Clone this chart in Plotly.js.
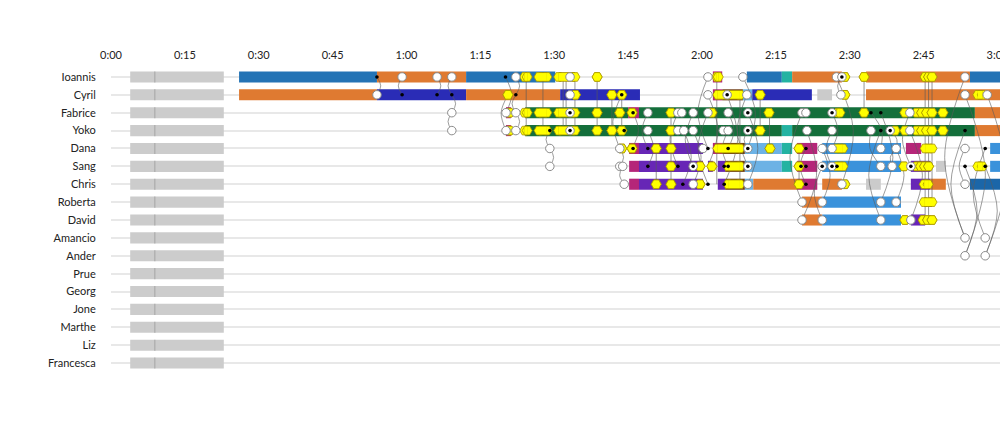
<!DOCTYPE html>
<html><head><meta charset="utf-8">
<script src="https://cdn.plot.ly/plotly-3.0.1.min.js"></script>
<style>html,body{margin:0;padding:0;background:#fff}#chart{width:1000px;height:422px}</style>
</head><body><div id="chart"></div>
<script>
// ---------- DATA (times in minutes) ----------
const people = ['Ioannis','Cyril','Fabrice','Yoko','Dana','Sang','Chris','Roberta','David','Amancio','Ander','Prue','Georg','Jone','Marthe','Liz','Francesca'];
const tickMinutes = [0,15,30,45,60,75,90,105,120,135,150,165,180];
const tickLabels = ['0:00','0:15','0:30','0:45','1:00','1:15','1:30','1:45','2:00','2:15','2:30','2:45','3:00'];
const idleBlock = [3.9, 22.9];
const idleMark = 8.9;

// activity segments: [start, end, type]
const barsIoannis = [[26.0,54.0,'A'],[54.0,72.1,'B'],[72.1,90.2,'A'],[122.2,124.1,'E'],[129.1,136.2,'A'],[136.2,138.3,'I'],[138.3,148.4,'B'],[153.3,174.4,'B'],[174.4,181,'A']];
const barsCyril = [[26.0,54.0,'B'],[54.0,72.1,'C'],[72.1,91.2,'B'],[91.2,107.4,'C'],[122.2,124.1,'E'],[124.1,128.3,'G'],[128.3,130.2,'H'],[130.2,142.3,'C'],[143.4,146.4,'L'],[153.3,181,'B']];
const barsFabrice = [[80.2,81.2,'E'],[84.1,105.0,'D'],[105.0,107.2,'E'],[107.2,175.4,'D'],[175.4,181,'B']];
const barsYoko = [[80.2,81.2,'E'],[84.1,136.2,'D'],[136.2,138.3,'I'],[138.3,175.4,'D'],[175.4,181,'B']];
const barsDana = [[105.2,107.2,'E'],[107.2,120.2,'F'],[122.2,124.1,'E'],[124.1,128.7,'G'],[128.7,136.2,'H'],[136.2,138.3,'I'],[139.3,143.4,'E'],[144.4,160.4,'J'],[161.4,164.5,'E'],[178.5,181,'J']];
const barsSang = [[105.2,107.2,'E'],[107.2,120.2,'F'],[121.2,122.2,'F'],[123.2,124.7,'F'],[124.7,128.7,'G'],[128.7,136.2,'H'],[136.2,138.3,'I'],[139.3,143.4,'E'],[144.4,160.4,'J'],[162.4,166.4,'F'],[167.5,169.5,'L'],[178.5,181,'J']];
const barsChris = [[105.2,107.2,'E'],[107.2,120.2,'F'],[123.2,124.7,'F'],[124.7,128.7,'G'],[128.7,130.4,'H'],[130.4,139.3,'B'],[139.3,143.4,'E'],[144.4,148.4,'B'],[153.3,156.3,'L'],[162.4,166.4,'F'],[166.4,169.5,'B'],[174.4,181,'K']];
const barsRoberta = [[140.3,144.4,'B'],[144.4,160.4,'J']];
const barsDavid = [[140.3,144.4,'B'],[144.4,160.4,'J'],[162.4,165.3,'F']];
const allBars = [barsIoannis,barsCyril,barsFabrice,barsYoko,barsDana,barsSang,barsChris,barsRoberta,barsDavid];

// yellow pills: [capStart, capEnd]
const pills = [
  [[84.0,84.5],[86.9,88.5],[90.9,94.2],[98.7,98.7],[123.0,123.3],[149.0,149.0],[152.9,152.9],[165.3,165.3],[166.0,166.0],[166.7,166.7]],
  [[80.6,80.6],[94.3,94.3],[101.7,101.7],[103.7,103.7],[123.2,127.7],[131.8,131.8],[149.0,149.0],[176.0,176.9]],
  [[80.9,80.9],[84.0,84.5],[86.9,88.5],[90.9,94.2],[98.7,98.7],[103.3,103.3],[105.8,105.8],[113.7,113.7],[122.0,122.0],[133.6,133.6],[147.6,148.0],[152.9,152.9],[161.2,161.2],[163.6,163.6],[164.6,164.6],[165.6,165.6],[166.7,166.7],[168.9,168.9]],
  [[80.9,80.9],[84.0,84.5],[86.9,88.5],[90.9,94.2],[98.7,98.7],[101.7,101.7],[103.7,103.7],[113.7,113.7],[131.8,131.8],[159.2,159.2],[161.2,161.2],[163.6,163.6],[164.6,164.6],[165.6,165.6],[166.7,166.7],[168.9,168.9]],
  [[103.7,103.7],[105.8,105.8],[110.7,110.7],[113.7,113.7],[123.2,127.7],[133.8,133.8],[139.7,139.7],[147.4,148.6],[165.3,166.7]],
  [[113.7,113.7],[119.6,119.6],[122.0,122.0],[125.3,127.7],[139.7,139.7],[147.4,148.6],[161.0,161.0],[163.6,163.6],[164.4,164.4],[165.2,165.2],[166.0,166.0],[176.0,176.9]],
  [[110.7,110.7],[113.7,113.7],[119.6,119.6],[125.3,127.7],[139.7,139.7],[149.0,149.0],[165.1,165.9]],
  [[165.1,166.7]],
  [[161.2,161.2],[164.9,164.9],[165.8,165.8],[166.7,166.7]]
];
// open circles per row
const openDots = [
  [59.1,66.2,69.2,82.2,93.2,121.2,128.3,147.3,173.4],
  [54.0,93.2,121.2,129.1,148.2,173.4,177.9],
  [69.2,80.2,82.2,109.0,115.1,115.9,118.2,121.2,125.3,140.3,141.1,162.2],
  [69.2,80.2,82.2,109.0,115.1,116.3,118.2,124.3,125.3,141.3,146.4,154.3,162.2],
  [89.1,103.3,120.2,144.4,146.4,156.3,159.4,173.4],
  [89.1,103.3,103.9,156.3,158.6],
  [104.2,118.2,129.3,148.4,173.4],
  [140.3,144.4,156.3,159.4],
  [140.3,144.4,156.3,162.4],
  [173.4,177.5],
  [173.4,177.5]
];
// open circles with a dot inside
const targetDots = [
  [148.4],[125.1],[93.2,129.3,146.4],[93.2,129.3,158.2],[129.3],[118.2,129.3,144.4,146.4,162.4],[]
];
// small black dots
const blackDots = [
  [54.0,80.1],
  [59.1,66.2,69.2,82.2,103.7],
  [106.0,154.3,156.3],
  [89.1,104.2,156.3,173.4],
  [106.0,109.0,121.2,125.3,141.1,177.5],
  [109.0,115.1,124.5,125.3,140.1,141.1,147.4,173.4,177.5],
  [116.1,121.2,124.5,141.1]
];
// curved links: [x1,row1,x2,row2]
const curveLinks = [
  [54.0,0,54.0,1],[59.1,0,59.1,1],[66.2,0,66.2,1],[69.2,0,69.2,1],[69.2,1,69.2,2],[69.2,2,69.2,3],
  [80.1,0,80.2,2],[80.6,1,80.2,3],[82.2,0,82.2,1],[82.2,1,82.2,2],[82.2,2,82.2,3],
  [89.1,3,89.1,4],[89.1,4,89.1,5],[103.7,1,103.3,4],[103.3,4,103.3,5],[103.9,5,104.2,6],
  [106.0,2,105.8,4],[109.0,2,109.0,4],[109.0,3,109.0,5],[115.1,2,115.1,5],[116.3,3,116.1,6],
  [118.2,2,118.2,5],[118.2,3,118.2,6],[121.2,0,121.2,4],[121.2,1,121.2,5],[121.2,2,121.2,6],
  [128.3,0,129.3,4],[129.1,1,129.3,5],[129.3,2,129.3,6],[129.3,3,129.3,4],
  [125.3,2,125.3,4],[125.3,3,125.3,5],[125.1,1,124.5,6],
  [140.3,2,140.3,7],[141.3,3,140.3,8],[141.1,4,141.1,6],[144.4,4,144.4,7],[144.4,5,144.4,8],
  [146.4,2,146.4,4],[146.4,3,146.4,5],[147.3,0,148.4,6],[148.2,1,148.4,0],
  [154.3,2,156.3,4],[154.3,3,156.3,5],[156.3,2,156.3,7],[156.3,3,156.3,8],
  [158.2,3,159.4,4],[159.4,4,158.6,5],[159.4,4,159.4,7],[162.2,2,162.4,5],[162.2,3,162.4,8],
  [173.4,0,173.4,9],[173.4,1,173.4,10],[173.4,3,173.4,9],[177.9,1,177.5,10],
  [177.5,4,177.5,9],[177.5,5,177.5,10],[173.4,4,173.4,6],[173.4,5,173.4,10]
];
// straight vertical links: [x,row1,row2]
const straightLinks = [
  [84.3,0,3],[87.7,0,3],[91.8,0,3],[92.4,0,3],[94.2,0,3],[98.7,0,3],[101.7,1,3],[103.7,1,3],
  [110.7,4,6],[113.7,2,6],[123.0,0,6],[127.7,1,6],[131.8,1,3],[133.7,2,4],[139.7,4,6],
  [152.9,0,2],[165.3,0,8],[166.0,0,8],[166.7,0,7]
];

// ---------- STYLE ----------
const palette = {A:'#2473b5',B:'#df7a31',C:'#2a2cb6',D:'#146f3b',E:'#b52679',F:'#6726b6',
  G:'#6e3d16',H:'#6cb2e5',I:'#24b3a2',J:'#3a92db',K:'#1b66a8',L:'#cbcbcb'};
const BAR_W = 0.62;
const FONT = 'Lato, "Open Sans", sans-serif';

const traces = [];
const rowsIdx = people.map((_, i) => i);
// idle blocks
traces.push({type:'bar', orientation:'h', y:rowsIdx, x:rowsIdx.map(()=>idleBlock[1]-idleBlock[0]),
  base:rowsIdx.map(()=>idleBlock[0]), width:BAR_W, marker:{color:'#cccccc', line:{width:0}}, hoverinfo:'skip'});
traces.push({type:'bar', orientation:'h', y:rowsIdx, x:rowsIdx.map(()=>0.22),
  base:rowsIdx.map(()=>idleMark-0.11), width:BAR_W, marker:{color:'#a8a8a8', line:{width:0}}, hoverinfo:'skip'});
// activity bars
const bx=[], bb=[], by=[], bc=[];
allBars.forEach((segs, r) => segs.forEach(s => { by.push(r); bb.push(s[0]); bx.push(s[1]-s[0]); bc.push(palette[s[2]]); }));
traces.push({type:'bar', orientation:'h', y:by, x:bx, base:bb, width:BAR_W,
  marker:{color:bc, line:{width:0}}, hoverinfo:'skip'});

// curved links
const cx=[], cy=[];
curveLinks.forEach((l, i) => {
  const dr = Math.abs(l[3]-l[1]);
  const b = (0.35 + 0.42*dr) * (i % 2 ? -1 : 1);
  cx.push(l[0], (l[0]+l[2])/2 + b, l[2], null);
  cy.push(l[1], (l[1]+l[3])/2, l[3], null);
});
traces.push({type:'scatter', mode:'lines', x:cx, y:cy, line:{color:'rgba(90,90,90,0.75)', width:0.8, shape:'spline'}, hoverinfo:'skip'});
const sx=[], sy=[];
straightLinks.forEach(l => { sx.push(l[0], l[0], null); sy.push(l[1], l[2], null); });
traces.push({type:'scatter', mode:'lines', x:sx, y:sy, line:{color:'rgba(90,90,90,0.8)', width:0.8}, hoverinfo:'skip'});

// pills
const pEndX=[], pEndY=[], pLx=[], pLy=[];
pills.forEach((list, r) => list.forEach(p => {
  pEndX.push(p[0], p[1]); pEndY.push(r, r);
  if (p[1] > p[0]) { pLx.push(p[0], p[1], null); pLy.push(r, r, null); }
}));
traces.push({type:'scatter', mode:'markers', x:pEndX, y:pEndY,
  marker:{symbol:'hexagon2', size:10, color:'#ffff00', line:{color:'#a89400', width:0.8}}, hoverinfo:'skip'});
traces.push({type:'scatter', mode:'lines', x:pLx, y:pLy, line:{color:'#a89400', width:9.6}, hoverinfo:'skip'});
traces.push({type:'scatter', mode:'lines', x:pLx, y:pLy, line:{color:'#ffff00', width:7.8}, hoverinfo:'skip'});

// open circles
const ox=[], oy=[];
openDots.forEach((list, r) => list.forEach(v => { ox.push(v); oy.push(r); }));
targetDots.forEach((list, r) => list.forEach(v => { ox.push(v); oy.push(r); }));
traces.push({type:'scatter', mode:'markers', x:ox, y:oy,
  marker:{symbol:'circle', size:8.5, color:'#ffffff', line:{color:'#8a8a8a', width:1}}, hoverinfo:'skip'});
// black dots
const kx=[], ky=[];
blackDots.forEach((list, r) => list.forEach(v => { kx.push(v); ky.push(r); }));
targetDots.forEach((list, r) => list.forEach(v => { kx.push(v); ky.push(r); }));
traces.push({type:'scatter', mode:'markers', x:kx, y:ky,
  marker:{symbol:'circle', size:3.6, color:'#000000', line:{width:0}}, hoverinfo:'skip'});

const layout = {
  width:1000, height:422,
  margin:{l:111, r:0, t:68, b:50},
  paper_bgcolor:'#ffffff', plot_bgcolor:'#ffffff',
  showlegend:false, barmode:'overlay', hovermode:false,
  font:{family:FONT, size:11, color:'#222'},
  xaxis:{side:'top', range:[0,180.5], tickvals:tickMinutes, ticktext:tickLabels, ticklabeloverflow:'allow',
    showgrid:false, zeroline:false, showline:false, ticks:'outside', ticklen:4, tickcolor:'rgba(0,0,0,0)',
    tickfont:{family:FONT, size:11, color:'#222'}, fixedrange:true},
  yaxis:{range:[16.5,-0.5], tickvals:rowsIdx, ticktext:people, showgrid:true, gridcolor:'#e8e8e8', gridwidth:2,
    zeroline:false, showline:false, ticks:'outside', ticklen:12, tickcolor:'rgba(0,0,0,0)',
    tickfont:{family:FONT, size:11, color:'#222'}, fixedrange:true}
};
Plotly.newPlot('chart', traces, layout, {displayModeBar:false, staticPlot:true});
</script></body></html>
